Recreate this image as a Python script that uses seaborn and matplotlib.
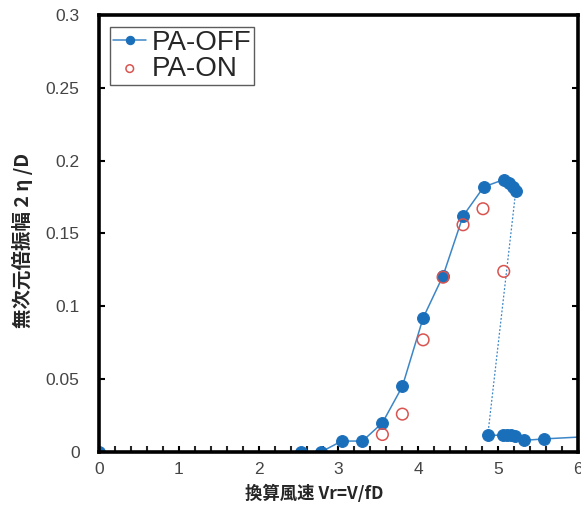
import numpy as np
import pandas as pd
import matplotlib
matplotlib.use('Agg')
import matplotlib.pyplot as plt
import seaborn as sns
from matplotlib.ticker import MultipleLocator

# PA-OFF, upper branch (increasing wind speed)
off_up_x = [0, 2.53, 2.78, 3.04, 3.30, 3.55, 3.80, 4.06, 4.31, 4.56, 4.82, 5.07, 5.13, 5.18, 5.22]
off_up_y = [0, 0, 0, 0.0075, 0.0075, 0.020, 0.045, 0.092, 0.121, 0.162, 0.182, 0.187, 0.185, 0.182, 0.179]
# PA-OFF, lower branch after the drop
off_low_x = [4.87, 5.06, 5.11, 5.16, 5.21, 5.33, 5.58, 6.1]
off_low_y = [0.0115, 0.0115, 0.0115, 0.0115, 0.011, 0.008, 0.009, 0.0105]
# PA-ON
on_x = [3.55, 3.80, 4.06, 4.31, 4.56, 4.81, 5.07]
on_y = [0.012, 0.026, 0.077, 0.120, 0.156, 0.167, 0.124]

x_ticks = [0, 1, 2, 3, 4, 5, 6]
y_ticks = [0, 0.05, 0.1, 0.15, 0.2, 0.25, 0.3]
y_labels = ['0', '0.05', '0.1', '0.15', '0.2', '0.25', '0.3']


def main():
    sns.set_style('white')
    plt.rcParams['font.family'] = ['Noto Sans CJK JP', 'DejaVu Sans']

    blue = '#1a6fba'
    line_blue = '#3d86c6'
    red = '#d9534f'

    fig = plt.figure(figsize=(5.81, 5.07), dpi=100)
    ax = fig.add_axes([0.1704, 0.1085, 0.8244, 0.8619])

    up = pd.DataFrame({'x': off_up_x, 'y': off_up_y})
    low = pd.DataFrame({'x': off_low_x, 'y': off_low_y})
    jump = pd.DataFrame({'x': [off_up_x[-1], off_low_x[0]], 'y': [off_up_y[-1], off_low_y[0]]})
    on = pd.DataFrame({'x': on_x, 'y': on_y})

    sns.lineplot(data=jump, x='x', y='y', sort=False, estimator=None, ax=ax,
                 color=line_blue, linewidth=0.9, linestyle=(0, (1.5, 1.5)), legend=False)
    sns.lineplot(data=up, x='x', y='y', sort=False, estimator=None, ax=ax,
                 color=line_blue, linewidth=1.1, marker='o', markersize=8.5,
                 markerfacecolor=blue, markeredgecolor=blue, label='PA-OFF')
    sns.lineplot(data=low, x='x', y='y', sort=False, estimator=None, ax=ax,
                 color=line_blue, linewidth=1.1, marker='o', markersize=8.5,
                 markerfacecolor=blue, markeredgecolor=blue, legend=False)
    sns.scatterplot(data=on, x='x', y='y', ax=ax, marker='o', s=70,
                    facecolors='none', edgecolors=red, linewidths=1.1, label='PA-ON', zorder=5)

    ax.set_xlim(0, 6)
    ax.set_ylim(0, 0.3)
    ax.set_xticks(x_ticks)
    ax.set_yticks(y_ticks)
    ax.set_yticklabels(y_labels)
    ax.xaxis.set_minor_locator(MultipleLocator(0.2))
    ax.tick_params(axis='both', which='major', direction='in', length=4, width=1.5,
                   colors='black', labelcolor='#444444', labelsize=12.5)
    ax.tick_params(axis='x', which='minor', direction='in', length=4, width=1.5, bottom=True)
    ax.tick_params(axis='x', which='major', pad=7, bottom=True)
    ax.tick_params(axis='y', which='major', pad=14, left=True, right=True)
    for lab in ax.get_xticklabels() + ax.get_yticklabels():
        lab.set_family(['Liberation Sans', 'DejaVu Sans'])

    for s in ax.spines.values():
        s.set_visible(True)
        s.set_color('black')
        s.set_linewidth(2.6)

    ax.set_xlabel('換算風速 Vr=V/fD', fontsize=12.5, fontweight='bold')
    ax.xaxis.set_label_coords(0.45, -0.075)
    ax.set_ylabel('無次元倍振幅 2 η /D', fontsize=14, fontweight='bold')
    ax.yaxis.set_label_coords(-0.137, 0.485)

    leg = ax.legend(loc='upper left', bbox_to_anchor=(0.012, 0.985), fontsize=20,
                    frameon=True, fancybox=False, handlelength=1.2, handletextpad=0.2,
                    borderpad=0.1, labelspacing=0.0, borderaxespad=0.2)
    leg.get_frame().set_edgecolor('#333333')
    leg.get_frame().set_linewidth(1.0)
    for t in leg.get_texts():
        t.set_family(['Liberation Sans', 'DejaVu Sans'])
    handles = leg.legend_handles
    handles[0].set_markersize(6)
    handles[1].set_sizes([30])

    fig.savefig('out.png', dpi=100)


if __name__ == "__main__":
    main()
